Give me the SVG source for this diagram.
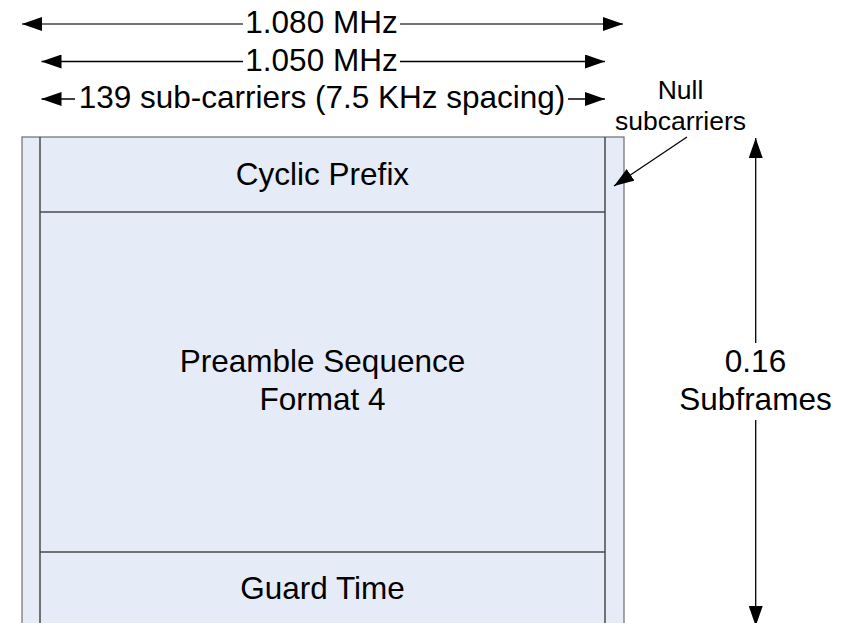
<svg xmlns="http://www.w3.org/2000/svg" width="848" height="623" viewBox="0 0 848 623">
<style>
text{font-family:"Liberation Sans",Arial,sans-serif;fill:#000;text-anchor:middle}
.big{font-size:31.5px}
.small{font-size:26.5px}
.box{fill:#E6ECF7;stroke:#6e6e6e;stroke-width:1.2}
.div{stroke:#4a4a4a;stroke-width:1.5;fill:none}
.conn{stroke:#000;stroke-width:1.3;fill:none}
.conn1{stroke:#444;stroke-width:1.5;fill:none}
</style>
<defs>
<marker id="ah" viewBox="0 0 20 14" refX="20" refY="7" markerWidth="20" markerHeight="14" markerUnits="userSpaceOnUse" orient="auto-start-reverse">
<path d="M0,0 L20,7 L0,14 Z" fill="#000"/>
</marker>
</defs>
<rect x="0" y="0" width="848" height="623" fill="#fff"/>
<g id="frame">
<rect class="box" x="22" y="137" width="602" height="500"/>
<line class="div" x1="40" y1="137" x2="40" y2="640"/>
<line class="div" x1="605" y1="137" x2="605" y2="640"/>
</g>
<g id="cyclic-prefix">
<line class="div" x1="40" y1="212" x2="605" y2="212"/>
<text class="big" x="322.5" y="185">Cyclic Prefix</text>
</g>
<g id="preamble">
<text class="big" x="322.5" y="372">Preamble Sequence</text>
<text class="big" x="322.5" y="410">Format 4</text>
</g>
<g id="guard-time">
<line class="div" x1="40" y1="552" x2="605" y2="552"/>
<text class="big" x="322.5" y="599">Guard Time</text>
</g>
<g id="labels">
<text class="big" x="321.5" y="33">1.080 MHz</text>
<text class="big" x="321.5" y="70.5">1.050 MHz</text>
<text class="big" x="322" y="108">139 sub-carriers (7.5 KHz spacing)</text>
<text class="small" x="680.5" y="99">Null</text>
<text class="small" x="680.5" y="130">subcarriers</text>
<text class="big" x="755.5" y="372">0.16</text>
<text class="big" x="755.5" y="410">Subframes</text>
</g>
<g id="connectors">
<line class="conn1" x1="22" y1="24" x2="243" y2="24" marker-start="url(#ah)"/>
<line class="conn1" x1="400" y1="24" x2="623" y2="24" marker-end="url(#ah)"/>
<line class="conn" x1="41.5" y1="61.5" x2="243" y2="61.5" marker-start="url(#ah)"/>
<line class="conn" x1="400" y1="61.5" x2="605" y2="61.5" marker-end="url(#ah)"/>
<line class="conn" x1="41.5" y1="99" x2="75" y2="99" marker-start="url(#ah)"/>
<line class="conn" x1="568" y1="99" x2="605" y2="99" marker-end="url(#ah)"/>
<line class="conn" x1="687" y1="137" x2="614" y2="186" marker-end="url(#ah)"/>
<line class="conn" x1="755.7" y1="138" x2="755.7" y2="343" marker-start="url(#ah)"/>
<line class="conn" x1="755.7" y1="420" x2="755.7" y2="626" marker-end="url(#ah)"/>
</g>
</svg>
